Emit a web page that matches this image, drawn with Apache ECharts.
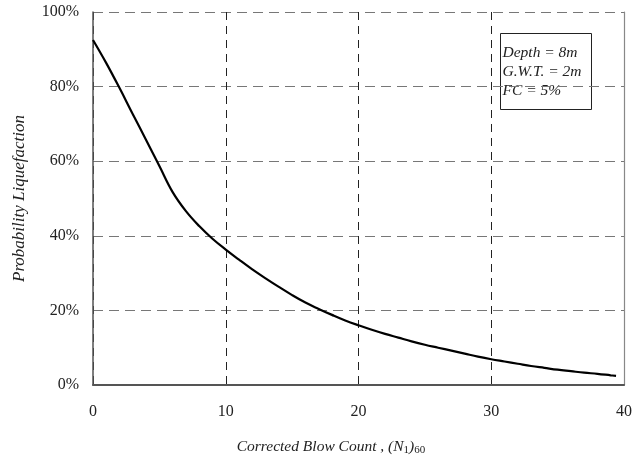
<!DOCTYPE html>
<html><head><meta charset="utf-8">
<script src="https://cdn.jsdelivr.net/npm/echarts@6/dist/echarts.min.js"></script>
<style>html,body{margin:0;padding:0;background:#fff}#c{width:635px;height:465px}</style>
</head><body><div id="c"></div>
<script>
var blowCount = [0, 1, 2, 3, 4, 5, 6, 7, 8, 9, 10, 11, 12, 13, 14, 15, 16, 17, 18, 19, 20, 21, 22, 23, 24, 25, 26, 27, 28, 29, 30, 31, 32, 33, 34, 35, 36, 37, 38, 39, 39.4];
var probability = [92.5, 86.3, 79.6, 72.6, 65.7, 58.7, 51.7, 46.6, 42.6, 39.2, 36.3, 33.6, 31.0, 28.6, 26.3, 24.1, 22.1, 20.4, 18.8, 17.3, 16.0, 14.8, 13.7, 12.7, 11.7, 10.8, 10.0, 9.2, 8.4, 7.6, 6.9, 6.3, 5.7, 5.1, 4.6, 4.1, 3.7, 3.3, 3.0, 2.6, 2.45];
var xTicks = [0, 10, 20, 30, 40];
var yTicks = [0, 20, 40, 60, 80, 100];
var infoLines = ['Depth = 8m', 'G.W.T. = 2m', 'FC = 5%'];

var chart = echarts.init(document.getElementById('c'));
var data = blowCount.map(function (x, i) { return [x, probability[i]]; });
var serif = '"Liberation Serif","DejaVu Serif",serif';
chart.setOption({
  animation: false,
  backgroundColor: '#fff',
  grid: { left: 93, right: 8, top: 12, bottom: 80, containLabel: false },
  xAxis: {
    type: 'value', min: xTicks[0], max: xTicks[xTicks.length - 1], interval: 10,
    axisLine: { show: true, lineStyle: { color: '#555', width: 2 } },
    axisTick: { show: false },
    axisLabel: { margin: 19, fontFamily: serif, fontSize: 16, color: '#222' },
    splitLine: { show: true, lineStyle: { type: [8, 6], color: '#222', width: 1 } },
    name: '{i|Corrected Blow Count , (}{i|N}{s|1}{i|)}{s|60}',
    nameLocation: 'middle', nameGap: 52,
    nameTextStyle: {
      padding: [0, 55, 0, 0],
      rich: {
        i: { fontFamily: serif, fontStyle: 'italic', fontSize: 15.5, color: '#222' },
        s: { fontFamily: serif, fontSize: 11, color: '#222', verticalAlign: 'bottom', padding: [8, 0, 0, 0] }
      }
    }
  },
  yAxis: [{
    type: 'value', min: yTicks[0], max: yTicks[yTicks.length - 1], interval: 20,
    axisLine: { show: true, lineStyle: { color: '#555', width: 1.5 } },
    axisTick: { show: false },
    axisLabel: { margin: 14, fontFamily: serif, fontSize: 16, color: '#222', formatter: '{value}%' },
    splitLine: { show: true, lineStyle: { type: [10, 6], color: '#777', width: 1.2 } },
    name: 'Probability Liquefaction', nameLocation: 'middle', nameGap: 65,
    nameTextStyle: { fontFamily: serif, fontStyle: 'italic', fontSize: 17, color: '#222' }
  }, {
    type: 'value', min: 0, max: 100, interval: 20, position: 'right',
    axisLine: { show: true, lineStyle: { color: '#888', width: 1.2 } },
    axisTick: { show: false }, axisLabel: { show: false }, splitLine: { show: false }
  }],
  series: [{
    type: 'line', data: data, showSymbol: false, smooth: 0.4,
    lineStyle: { color: '#000', width: 2.2 }
  }],
  graphic: [{
    type: 'group', left: 500, top: 33,
    children: [{
      type: 'rect', shape: { x: 0, y: 0, width: 91, height: 76 },
      style: { fill: '#fff', stroke: '#222', lineWidth: 1 }
    }, {
      type: 'text', left: 2, top: 10,
      style: { text: infoLines.join('\n'), fontFamily: serif, fontStyle: 'italic', fontSize: 15.5, lineHeight: 19, fill: '#222' }
    }]
  }]
});
</script></body></html>
